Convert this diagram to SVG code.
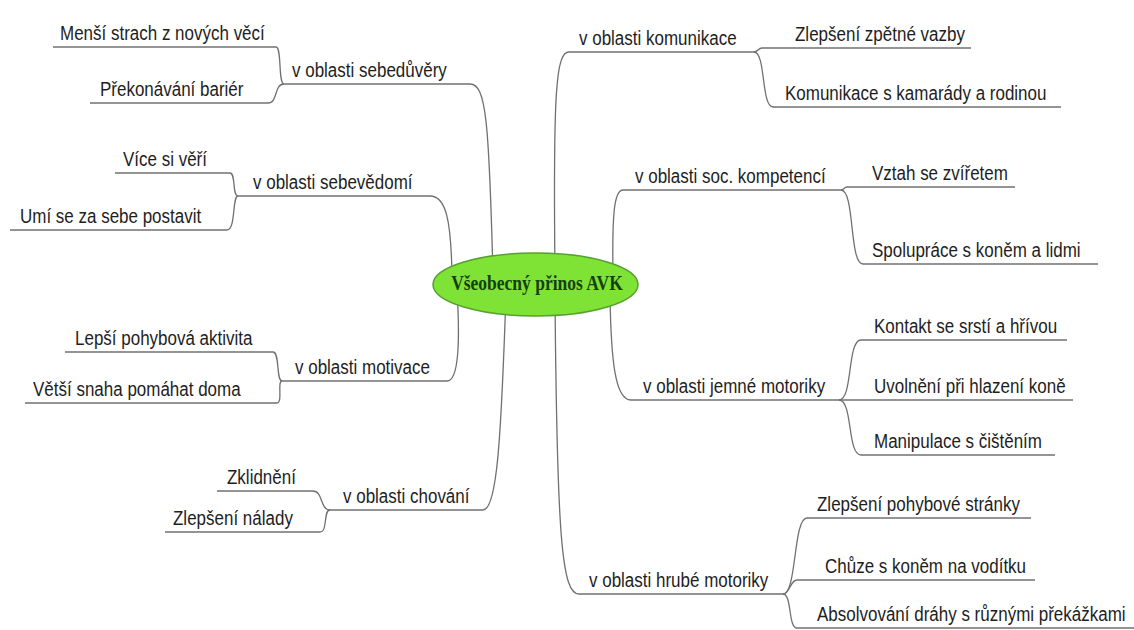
<svg xmlns="http://www.w3.org/2000/svg" width="1134" height="630" viewBox="0 0 1134 630">
<style>
  .t{font-family:"Liberation Sans",Arial,sans-serif;font-size:17px;fill:#1e1e1e}
  .u{stroke:#707070;stroke-width:1.3;fill:none}
  .c{stroke:#707070;stroke-width:1.3;fill:none}
  .ct{font-family:"Liberation Serif","Times New Roman",serif;font-size:17.5px;font-weight:bold;fill:#163f10}
</style>
<rect width="1134" height="630" fill="#ffffff"/>
<g id="connectors">
  <path class="c" d="M470,84 C486,84 489,120 493,275"/>
  <path class="c" d="M430,196 C446,196 451,220 452,275"/>
  <path class="c" d="M447,381 C459,381 460,340 457,290"/>
  <path class="c" d="M483,510 C497,510 501,440 506,295"/>
  <path class="c" d="M569,52 C556,52 553,90 555,275"/>
  <path class="c" d="M623,190 C614,190 612,215 613,275"/>
  <path class="c" d="M631,400 C615,400 611,360 610,295"/>
  <path class="c" d="M579,594 C562,594 557,540 555,295"/>
  <path class="c" d="M276,47 C282,47 278,84 284,84"/>
  <path class="c" d="M268,103 C278,103 274,84 284,84"/>
  <path class="c" d="M230,173 C236,173 232,196 238,196"/>
  <path class="c" d="M227,230 C236,230 232,196 238,196"/>
  <path class="c" d="M273,352 C280,352 276,381 282,381"/>
  <path class="c" d="M277,403 C283,403 277,381 282,381"/>
  <path class="c" d="M313,491 C323,491 320,510 330,510"/>
  <path class="c" d="M320,532 C328,532 323,510 330,510"/>
  <path class="c" d="M754,52 C758,52 758,48 762,48"/>
  <path class="c" d="M754,52 C766,52 761,107 773,107"/>
  <path class="c" d="M841,190 C844,190 844,187 847,187"/>
  <path class="c" d="M841,190 C855,190 849,264 863,264"/>
  <path class="c" d="M839,400 C853,400 847,340 861,340"/>
  <path class="c" d="M839,400 C853,400 847,455 861,455"/>
  <path class="c" d="M783,594 C797,594 793,518 807,518"/>
  <path class="c" d="M783,594 C790,594 790,580 797,580"/>
  <path class="c" d="M783,594 C792,594 788,628 797,628"/>
</g>
<g id="center">
  <ellipse cx="535.5" cy="284.5" rx="102.5" ry="31.5" fill="#7fe335" stroke="#55a030" stroke-width="1.5"/>
  <text class="ct" text-anchor="middle" transform="translate(537,290) scale(1,1.25)">Všeobecný přinos AVK</text>
</g>
<g id="n-sebeduvery"><line class="u" x1="284" y1="84" x2="470" y2="84"/><text class="t" transform="translate(292,77) scale(1,1.15)">v oblasti sebedůvěry</text></g>
<g id="n-mensi"><line class="u" x1="53" y1="47" x2="276" y2="47"/><text class="t" transform="translate(60,40) scale(1,1.15)">Menší strach z nových věcí</text></g>
<g id="n-prekonavani"><line class="u" x1="90" y1="103" x2="268" y2="103"/><text class="t" transform="translate(100,96) scale(1,1.15)">Překonávání bariér</text></g>
<g id="n-sebevedomi"><line class="u" x1="238" y1="196" x2="430" y2="196"/><text class="t" transform="translate(253,189) scale(1,1.15)">v oblasti sebevědomí</text></g>
<g id="n-vice"><line class="u" x1="115" y1="173" x2="230" y2="173"/><text class="t" transform="translate(123,166) scale(1,1.15)">Více si věří</text></g>
<g id="n-umi"><line class="u" x1="10" y1="230" x2="227" y2="230"/><text class="t" transform="translate(20,223) scale(1,1.15)">Umí se za sebe postavit</text></g>
<g id="n-motivace"><line class="u" x1="282" y1="381" x2="447" y2="381"/><text class="t" transform="translate(295,374) scale(1,1.15)">v oblasti motivace</text></g>
<g id="n-lepsi"><line class="u" x1="65" y1="352" x2="273" y2="352"/><text class="t" transform="translate(75,345) scale(1,1.15)">Lepší pohybová aktivita</text></g>
<g id="n-vetsi"><line class="u" x1="25" y1="403" x2="277" y2="403"/><text class="t" transform="translate(33,396) scale(1,1.15)">Větší snaha pomáhat doma</text></g>
<g id="n-chovani"><line class="u" x1="330" y1="510" x2="483" y2="510"/><text class="t" transform="translate(343,503) scale(1,1.15)">v oblasti chování</text></g>
<g id="n-zklidneni"><line class="u" x1="217" y1="491" x2="313" y2="491"/><text class="t" transform="translate(227,484) scale(1,1.15)">Zklidnění</text></g>
<g id="n-nalady"><line class="u" x1="165" y1="532" x2="320" y2="532"/><text class="t" transform="translate(173,525) scale(1,1.15)">Zlepšení nálady</text></g>
<g id="n-komunikace"><line class="u" x1="569" y1="52" x2="754" y2="52"/><text class="t" transform="translate(579,45) scale(1,1.15)">v oblasti komunikace</text></g>
<g id="n-zpetne"><line class="u" x1="762" y1="48" x2="971" y2="48"/><text class="t" transform="translate(795,41) scale(1,1.15)">Zlepšení zpětné vazby</text></g>
<g id="n-kamarady"><line class="u" x1="773" y1="107" x2="1061" y2="107"/><text class="t" transform="translate(785,100) scale(1,1.15)">Komunikace s kamarády a rodinou</text></g>
<g id="n-soc"><line class="u" x1="623" y1="190" x2="841" y2="190"/><text class="t" transform="translate(635,183) scale(1,1.15)">v oblasti soc. kompetencí</text></g>
<g id="n-vztah"><line class="u" x1="847" y1="187" x2="1015" y2="187"/><text class="t" transform="translate(872,180) scale(1,1.15)">Vztah se zvířetem</text></g>
<g id="n-spoluprace"><line class="u" x1="863" y1="264" x2="1098" y2="264"/><text class="t" transform="translate(872,257) scale(1,1.15)">Spolupráce s koněm a lidmi</text></g>
<g id="n-jemne"><line class="u" x1="631" y1="400" x2="839" y2="400"/><text class="t" transform="translate(643,393) scale(1,1.15)">v oblasti jemné motoriky</text></g>
<g id="n-kontakt"><line class="u" x1="861" y1="340" x2="1067" y2="340"/><text class="t" transform="translate(874,333) scale(1,1.15)">Kontakt se srstí a hřívou</text></g>
<g id="n-uvolneni"><line class="u" x1="839" y1="400" x2="1073" y2="400"/><text class="t" transform="translate(874,393) scale(1,1.15)">Uvolnění při hlazení koně</text></g>
<g id="n-manipulace"><line class="u" x1="861" y1="455" x2="1055" y2="455"/><text class="t" transform="translate(874,448) scale(1,1.15)">Manipulace s čištěním</text></g>
<g id="n-hrube"><line class="u" x1="579" y1="594" x2="783" y2="594"/><text class="t" transform="translate(589,587) scale(1,1.15)">v oblasti hrubé motoriky</text></g>
<g id="n-pohybove"><line class="u" x1="807" y1="518" x2="1031" y2="518"/><text class="t" transform="translate(817,511) scale(1,1.15)">Zlepšení pohybové stránky</text></g>
<g id="n-chuze"><line class="u" x1="797" y1="580" x2="1035" y2="580"/><text class="t" transform="translate(825,573) scale(1,1.15)">Chůze s koněm na vodítku</text></g>
<g id="n-absolvovani"><line class="u" x1="797" y1="628" x2="1134" y2="628"/><text class="t" transform="translate(817,621) scale(1,1.15)">Absolvování dráhy s různými překážkami</text></g>
</svg>
